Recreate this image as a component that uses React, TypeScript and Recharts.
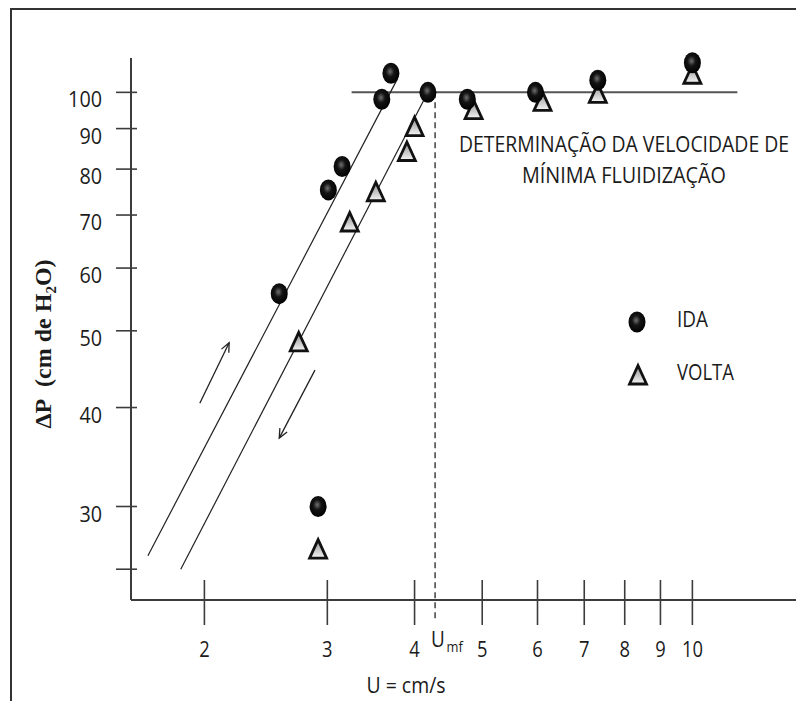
import { ComposedChart, Legend, ReferenceLine, Scatter, XAxis, YAxis } from "recharts";

// velocity U (cm/s) axis and pressure drop axis, both logarithmic
const X_TICKS = [2, 3, 4, 5, 6, 7, 8, 9, 10];
const X_TICK_LABELS = ["2", "3", "4", "5", "6", "7", "8", "9", "10"];
const Y_TICKS = [25, 30, 40, 50, 60, 70, 80, 90, 100];
const Y_TICK_LABELS = ["", "30", "40", "50", "60", "70", "80", "90", "100"];
const X_DOMAIN: [number, number] = [1.57, 14.45];
const Y_DOMAIN: [number, number] = [22.86, 110.5];

// rising flow (ida) and falling flow (volta)
const IDA_U = [2.56, 2.91, 3.01, 3.15, 3.59, 3.7, 4.18, 4.76, 5.96, 7.32, 10];
const IDA_DP = [55.7, 30, 75.3, 80.6, 98, 105.7, 100, 98, 100, 103.6, 109];
const VOLTA_U = [2.73, 2.91, 3.23, 3.52, 3.9, 4.0, 4.86, 6.1, 7.32, 10];
const VOLTA_DP = [48.4, 26.5, 68.6, 74.9, 84.2, 90.5, 95.1, 97.4, 99.7, 105.4];
const SERIES = ["IDA", "VOLTA"];

// fitted lines, plateau and minimum fluidization velocity
const UMF = 4.28;
const PLATEAU_DP = 100;
const PLATEAU_U = [3.25, 11.6];
const IDA_FIT = [
  { x: 1.66, y: 26 },
  { x: 3.78, y: 104 },
];
const VOLTA_FIT = [
  { x: 1.85, y: 25 },
  { x: 4.18, y: 100 },
];
const ARROW_UP = [
  { x: 1.97, y: 40.5 },
  { x: 2.17, y: 48.3 },
];
const ARROW_DOWN = [
  { x: 2.88, y: 44.6 },
  { x: 2.56, y: 36.6 },
];

const idaData = IDA_U.map((u, i) => ({ u, dp: IDA_DP[i] }));
const voltaData = VOLTA_U.map((u, i) => ({ u, dp: VOLTA_DP[i] }));

const INK = "#1b1b1b";
const AXIS = "#3c3c3c";
const SANS = '"Open Sans", "Liberation Sans", Arial, sans-serif';
const SERIF = '"Liberation Serif", "Times New Roman", serif';
const SQUEEZE = 0.86;

// condensed sans label: squeezed horizontally, then fitted to a set width
function NarrowText({ x, y, text, width, anchor = "middle", size = 22 }: any) {
  if (!text) return null;
  return (
    <text
      transform={`translate(${x},${y}) scale(${SQUEEZE},1)`}
      textAnchor={anchor}
      fontFamily={SANS}
      fontSize={size}
      fill={INK}
      textLength={width / SQUEEZE}
      lengthAdjust="spacingAndGlyphs"
    >
      {text}
    </text>
  );
}

function XTick({ x, y, payload }: any) {
  const label = X_TICK_LABELS[X_TICKS.indexOf(payload.value)] ?? "";
  return (
    <g>
      <line x1={x} x2={x} y1={y - 20} y2={y + 25} stroke={AXIS} strokeWidth={1.6} />
      <NarrowText x={x} y={y + 57} text={label} width={label.length * 10.5} />
    </g>
  );
}

function YTick({ x, y, payload }: any) {
  const label = Y_TICK_LABELS[Y_TICKS.indexOf(payload.value)] ?? "";
  return (
    <g>
      <line x1={x - 15} x2={x + 6} y1={y} y2={y} stroke={AXIS} strokeWidth={1.6} />
      <NarrowText x={x - 29} y={y + 15} text={label} width={label.length * 11.3} anchor="end" />
    </g>
  );
}

function XTitle({ viewBox }: any) {
  return <NarrowText x={viewBox.x + 275} y={viewBox.y + 93} text="U = cm/s" width={79} />;
}

function YTitle({ viewBox }: any) {
  const cx = viewBox.x + 20;
  const cy = viewBox.y + viewBox.height / 2 + 15;
  return (
    <text
      x={cx}
      y={cy}
      transform={`rotate(-90, ${cx}, ${cy})`}
      textAnchor="middle"
      fontFamily={SERIF}
      fontWeight="bold"
      fontSize={24}
      fill={INK}
    >
      ΔP{"\u00a0\u00a0"}(cm de H
      <tspan dy={5} fontSize={15}>
        2
      </tspan>
      <tspan dy={-5}>O)</tspan>
    </text>
  );
}

function Ball({ cx, cy }: any) {
  return (
    <g>
      <defs>
        <radialGradient id="ballShade" cx="45%" cy="42%" r="60%">
          <stop offset="0%" stopColor="#707070" />
          <stop offset="40%" stopColor="#141414" />
          <stop offset="100%" stopColor="#000" />
        </radialGradient>
      </defs>
      <ellipse cx={cx} cy={cy} rx={8.5} ry={10.5} fill="url(#ballShade)" />
    </g>
  );
}

function Tri({ cx, cy }: any) {
  return (
    <g>
      <defs>
        <linearGradient id="triShade" x1="0" y1="0" x2="0" y2="1">
          <stop offset="0%" stopColor="#8c8c8c" />
          <stop offset="100%" stopColor="#f6f6f6" />
        </linearGradient>
      </defs>
      <path
        d={`M${cx},${cy - 9.5} L${cx + 8.5},${cy + 9} L${cx - 8.5},${cy + 9} Z`}
        fill="url(#triShade)"
        stroke="#111"
        strokeWidth={2.8}
      />
    </g>
  );
}

function Arrow({ x1, y1, x2, y2 }: any) {
  const ang = Math.atan2(y2 - y1, x2 - x1);
  const len = 10;
  const spread = 0.42;
  const h1 = `${x2 - len * Math.cos(ang - spread)},${y2 - len * Math.sin(ang - spread)}`;
  const h2 = `${x2 - len * Math.cos(ang + spread)},${y2 - len * Math.sin(ang + spread)}`;
  return (
    <g stroke="#222" strokeWidth={1.3} fill="none">
      <line x1={x1} y1={y1} x2={x2} y2={y2} />
      <polyline points={`${h1} ${x2},${y2} ${h2}`} />
    </g>
  );
}

function UmfLine({ x1, y1, y2 }: any) {
  return (
    <g>
      <line x1={x1} x2={x1} y1={y1} y2={y2 + 20} stroke="#333" strokeWidth={1.4} strokeDasharray="6 4" />
      <text
        transform={`translate(${x1 - 4},${y2 + 47}) scale(${SQUEEZE},1)`}
        fontFamily={SANS}
        fontSize={22}
        fill={INK}
      >
        U
        <tspan dx={2} dy={5} fontSize={15}>
          mf
        </tspan>
      </text>
    </g>
  );
}

function LegendBox({ payload }: any) {
  const items = [...(payload ?? [])].sort(
    (a: any, b: any) => SERIES.indexOf(a.value) - SERIES.indexOf(b.value)
  );
  return (
    <svg width={200} height={100}>
      {items.map((item: any, i: number) => {
        const cy = i === 0 ? 24 : 77;
        return (
          <g key={item.value}>
            {item.value === "IDA" ? <Ball cx={19} cy={cy} /> : <Tri cx={20} cy={cy} />}
            <NarrowText
              x={59}
              y={cy + 5}
              text={item.value}
              width={item.value === "IDA" ? 31 : 57}
              anchor="start"
            />
          </g>
        );
      })}
    </svg>
  );
}

export default function App() {
  return (
    <div style={{ position: "relative", width: 796, height: 701, marginBottom: -8 }}>
      <div
        style={{
          position: "absolute",
          left: 2,
          top: 0,
          width: 792,
          height: 701,
          borderLeft: "2px solid #333",
          borderTop: "2px solid #333",
        }}
      />
      <ComposedChart
        width={796}
        height={701}
        margin={{ top: 50, right: 0, bottom: 49, left: 23 }}
        style={{ position: "absolute", left: 0, top: 0 }}
      >
        <XAxis
          type="number"
          dataKey="u"
          scale="log"
          domain={X_DOMAIN}
          ticks={X_TICKS}
          interval={0}
          tick={<XTick />}
          tickLine={false}
          tickSize={0}
          tickMargin={0}
          height={60}
          axisLine={{ stroke: AXIS, strokeWidth: 2 }}
          label={{ content: XTitle }}
        />
        <YAxis
          type="number"
          dataKey="dp"
          scale="log"
          domain={Y_DOMAIN}
          ticks={Y_TICKS}
          interval={0}
          tick={<YTick />}
          tickLine={false}
          tickSize={0}
          tickMargin={0}
          width={100}
          axisLine={{ stroke: AXIS, strokeWidth: 2 }}
          label={{ content: YTitle }}
        />
        <ReferenceLine
          segment={[
            { x: PLATEAU_U[0], y: PLATEAU_DP },
            { x: PLATEAU_U[1], y: PLATEAU_DP },
          ]}
          stroke="#555"
          strokeWidth={2}
          ifOverflow="visible"
        />
        <ReferenceLine segment={IDA_FIT} stroke="#222" strokeWidth={1.2} ifOverflow="visible" />
        <ReferenceLine segment={VOLTA_FIT} stroke="#222" strokeWidth={1.2} ifOverflow="visible" />
        <ReferenceLine
          segment={[
            { x: UMF, y: PLATEAU_DP },
            { x: UMF, y: Y_DOMAIN[0] },
          ]}
          shape={UmfLine}
          ifOverflow="visible"
        />
        <ReferenceLine segment={ARROW_UP} shape={Arrow} ifOverflow="visible" />
        <ReferenceLine segment={ARROW_DOWN} shape={Arrow} ifOverflow="visible" />
        <Scatter name="VOLTA" data={voltaData} shape={Tri} isAnimationActive={false} />
        <Scatter name="IDA" data={idaData} shape={Ball} isAnimationActive={false} />
        <Legend
          layout="vertical"
          align="center"
          verticalAlign="middle"
          content={LegendBox}
          wrapperStyle={{ left: 610, top: 290, width: 200, height: 100 }}
        />
        <g>
          <NarrowText x={616} y={144} text="DETERMINAÇÃO DA VELOCIDADE DE" width={330} size={22} />
          <NarrowText x={616} y={175} text="MÍNIMA FLUIDIZAÇÃO" width={204} size={22} />
        </g>
      </ComposedChart>
    </div>
  );
}
